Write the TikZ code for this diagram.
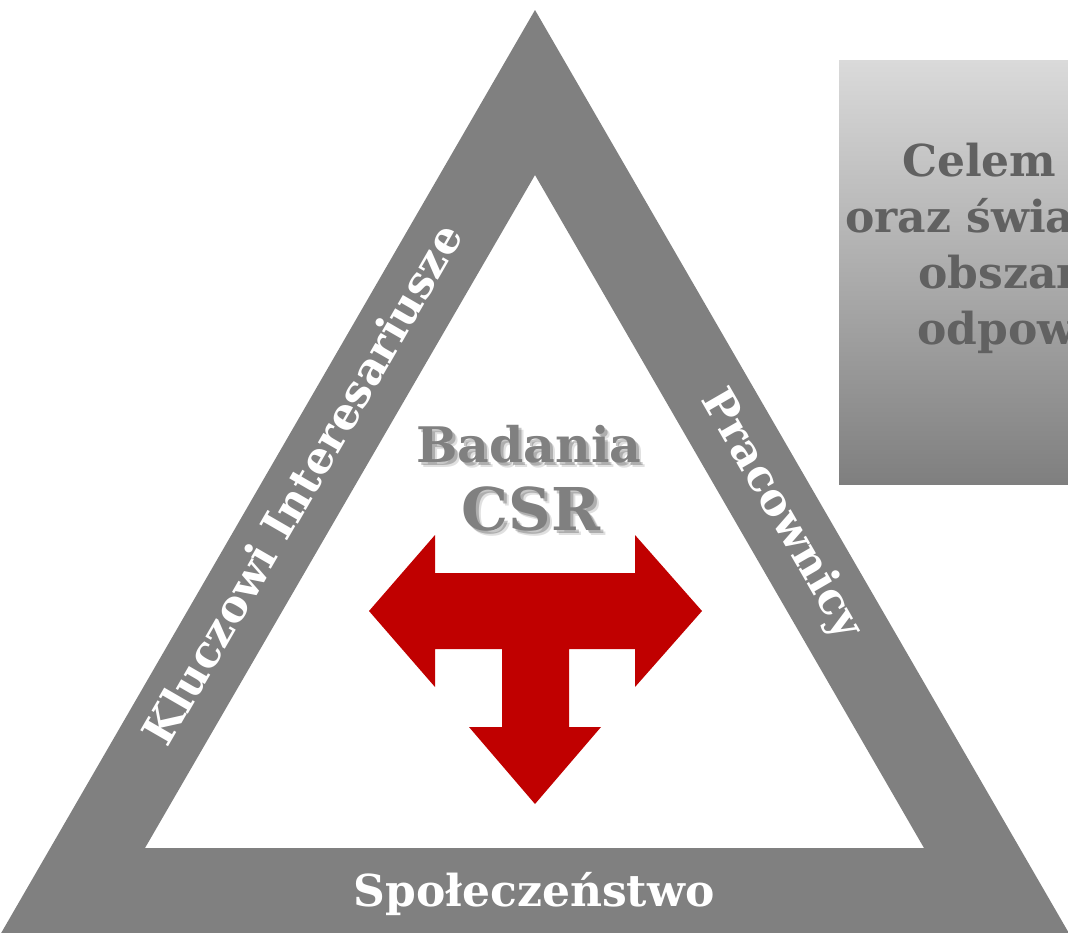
\documentclass[tikz,border=0pt]{standalone}
\usepackage{fontspec}
\setmainfont{DejaVu Serif}
\usetikzlibrary{shadings}
\definecolor{band}{HTML}{808080}
\definecolor{csrred}{HTML}{C00000}
\definecolor{boxtext}{HTML}{616161}
\definecolor{boxtop}{HTML}{DADADA}
\definecolor{boxbot}{HTML}{7F7F7F}
\tikzset{
  bandlabel/.style={text=white, font=\bfseries\fontsize{44}{48}\selectfont, inner sep=0pt},
  boxline/.style={text=boxtext, font=\bfseries\fontsize{44}{48}\selectfont, inner sep=0pt, anchor=base west},
  badfont/.style={font=\bfseries\fontsize{49}{52}\selectfont, inner sep=0pt, anchor=base},
  csrfont/.style={font=\bfseries\fontsize{59}{62}\selectfont, inner sep=0pt, anchor=base},
}
\begin{document}
\begin{tikzpicture}[x=1pt,y=-1pt]
\useasboundingbox (0,0) rectangle (1068,932);
\clip (0,0) rectangle (1068,932);
\fill[white] (0,0) rectangle (1068,932);
% triangle band
\fill[band,even odd rule] (0,935) -- (535,10) -- (1070,935) -- cycle
  (145,848) -- (535,175) -- (924,848) -- cycle;
% labels on band
\node[bandlabel, rotate=60] (kluczowi) at (302,484) {Kluczowi Interesariusze};
\node[bandlabel, rotate=-60] (pracownicy) at (781,515) {Pracownicy};
\node[bandlabel, anchor=base] (spol) at (534,906) {Społeczeństwo};
% right box
\shade[top color=boxtop, bottom color=boxbot] (839,60) rectangle (1080,484);
\node[boxline] (l1) at (902,176) {Celem badania};
\node[boxline] (l2) at (845,232) {oraz świadomości};
\node[boxline] (l3) at (918,288) {obszarze};
\node[boxline] (l4) at (917,344) {odpowiedzialności};
% title with soft shadow
\foreach \dx/\dy/\op in {3/3/0.22,5/5/0.12} {
  \node[badfont, text=black, opacity=\op] at (529+\dx,462+\dy) {Badania};
  \node[csrfont, text=black, opacity=\op] at (531+\dx,530+\dy) {CSR};
}
\node[badfont, text=band] (badania) at (529,462) {Badania};
\node[csrfont, text=band] (csr) at (531,530) {CSR};
% red arrow
\fill[csrred] (369,611) -- (435,535) -- (435,573) -- (635,573) -- (635,535) -- (702,611)
  -- (635,687) -- (635,649) -- (569,649) -- (569,727) -- (601,727) -- (535,804)
  -- (469,727) -- (502,727) -- (502,649) -- (435,649) -- (435,687) -- cycle;
\end{tikzpicture}
\end{document}
